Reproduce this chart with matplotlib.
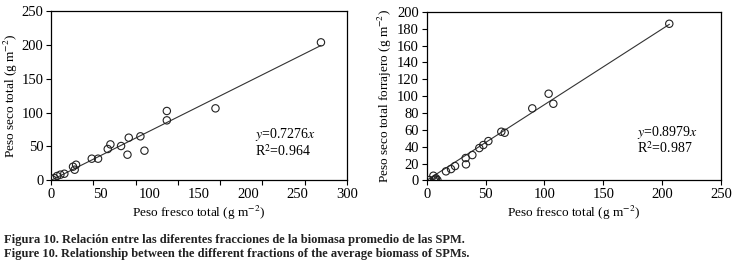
import numpy as np
import matplotlib
matplotlib.use("Agg")
import matplotlib.pyplot as plt

plt.rcParams['font.family'] = ['Liberation Serif', 'DejaVu Serif']
plt.rcParams['mathtext.fontset'] = 'stix'

# left panel: peso fresco total vs peso seco total
fresco_a = [273.6, 166.7, 117.4, 117.4, 90.6, 78.8, 71.0, 60.2, 57.5, 77.5, 94.7,
            47.7, 41.3, 25.4, 22.3, 24.0, 13.5, 9.5, 6.1, 3.4, 1.4]
seco_a = [203.7, 106.3, 102.4, 88.6, 65.0, 63.0, 50.7, 53.1, 46.3, 37.9, 43.8,
          32.0, 32.0, 23.1, 20.2, 15.7, 9.8, 8.4, 6.4, 3.4, 1.5]
slope_a = 0.7276
r2_a = 0.964

# right panel: peso fresco total vs peso seco total forrajero
fresco_b = [206.1, 103.6, 107.6, 89.7, 63.4, 66.3, 52.4, 48.1, 44.7, 38.8, 33.1,
            33.4, 24.1, 20.7, 16.4, 5.7, 7.1, 9.1, 2.3, 6.2, 7.9]
forraje_b = [185.8, 102.8, 90.9, 85.4, 57.7, 56.5, 46.6, 41.9, 38.3, 30.0, 26.5,
             19.0, 17.0, 13.4, 10.7, 5.5, 1.2, 0.4, 0.4, 0.0, 2.4]
slope_b = 0.8979
r2_b = 0.987

fig = plt.figure(figsize=(7.35, 2.68), dpi=100)
ax1 = fig.add_axes([0.0694, 0.327, 0.4027, 0.632])
ax2 = fig.add_axes([0.5805, 0.327, 0.4004, 0.629])

fs = 10.5    # tick labels
lfs = 9.5    # axis labels
afs = 10     # equations

def style(ax):
    ax.tick_params(direction='out', length=3.5, width=0.8, labelsize=fs, pad=2)
    ax.tick_params(which='minor', length=0, labelsize=fs, pad=5.5)
    for s in ax.spines.values():
        s.set_linewidth(0.9)

# left
ax1.scatter(fresco_a, seco_a, s=28, facecolors='none', edgecolors='#222222', linewidths=0.8, zorder=3)
xl = np.array([0, max(fresco_a)])
ax1.plot(xl, slope_a * xl, color='#333333', lw=0.8)
ax1.set_xlim(0, 300)
ax1.set_ylim(0, 250)
ax1.set_yticks([0, 50, 100, 150, 200, 250])
# tick marks and labels do not line up in the original figure
ax1.xaxis.remove_overlapping_locs = False
ax1.set_xticks(np.linspace(0, 300, 8))
ax1.set_xticklabels([])
ax1.set_xticks([0, 50, 100, 150, 200, 250, 300], minor=True)
ax1.set_xticklabels(['0', '50', '100', '150', '200', '250', '300'], minor=True)
style(ax1)
ax1.set_xlabel('Peso fresco total (g m$^{-2}$)', fontsize=lfs, labelpad=2)
ax1.set_ylabel('Peso seco total (g m$^{-2}$)', fontsize=lfs)
ax1.yaxis.set_label_coords(-0.105, 0.5)
ax1.text(0.69, 0.27, '$y$=%.4f$x$' % slope_a, transform=ax1.transAxes, fontsize=afs, va='center')
ax1.text(0.69, 0.175, 'R$^2$=%.3f' % r2_a, transform=ax1.transAxes, fontsize=afs, va='center')

# right
ax2.scatter(fresco_b, forraje_b, s=28, facecolors='none', edgecolors='#222222', linewidths=0.8, zorder=3)
xr = np.array([0, max(fresco_b)])
ax2.plot(xr, slope_b * xr, color='#333333', lw=0.8)
ax2.set_xlim(0, 250)
ax2.set_ylim(0, 200)
ax2.set_xticks([0, 50, 100, 150, 200, 250])
ax2.set_yticks(np.arange(0, 201, 20))
style(ax2)
ax2.set_xlabel('Peso fresco total (g m$^{-2}$)', fontsize=lfs, labelpad=2)
ax2.set_ylabel('Peso seco total forrajero (g m$^{-2}$)', fontsize=lfs)
ax2.yaxis.set_label_coords(-0.11, 0.5)
ax2.text(0.715, 0.285, '$y$=%.4f$x$' % slope_b, transform=ax2.transAxes, fontsize=afs, va='center')
ax2.text(0.715, 0.19, 'R$^2$=%.3f' % r2_b, transform=ax2.transAxes, fontsize=afs, va='center')

fig.text(0.006, 0.095, 'Figura 10. Relación entre las diferentes fracciones de la biomasa promedio de las SPM.',
         fontsize=9, weight='bold', color='#222222')
fig.text(0.006, 0.04, 'Figure 10. Relationship between the different fractions of the average biomass of SPMs.',
         fontsize=9, weight='bold', color='#222222')

fig.savefig('out.png', dpi=100)
